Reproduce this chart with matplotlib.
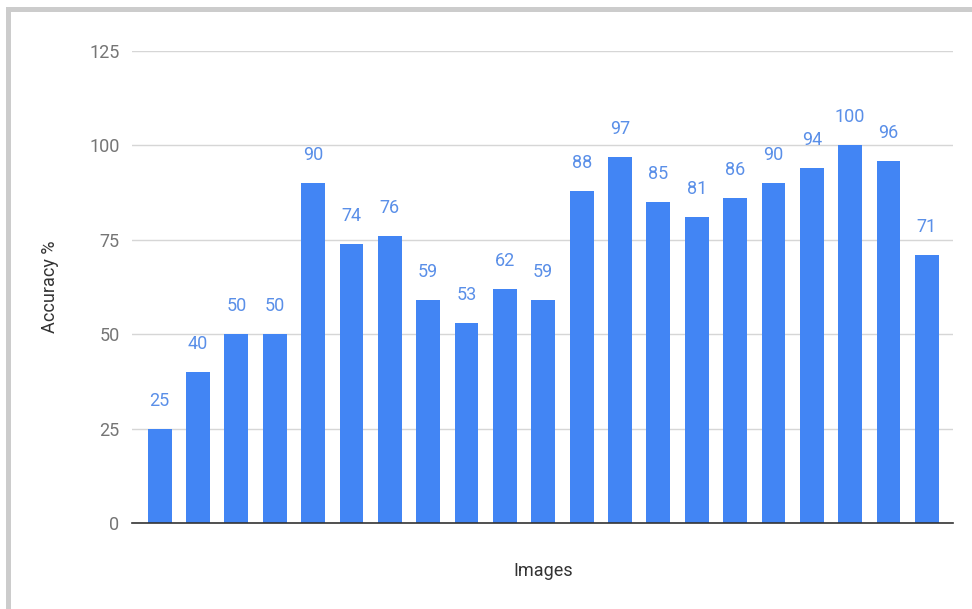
import matplotlib.pyplot as plt
from matplotlib.patches import Rectangle
import numpy as np

plt.rcParams['font.family'] = ['Roboto', 'DejaVu Sans']

# Accuracy per image
accuracy = [25, 40, 50, 50, 90, 74, 76, 59, 53, 62, 59, 88, 97, 85, 81, 86, 90, 94, 100, 96, 71]
yticks = [0, 25, 50, 75, 100, 125]

bar_blue = '#4285f4'
label_blue = '#5a8fe8'
tick_gray = '#757575'

fig = plt.figure(figsize=(9.72, 6.09), dpi=100)
ax = fig.add_axes([132 / 972, 1 - 523 / 609, (953 - 132) / 972, (523 - 51) / 609])

x = np.arange(len(accuracy))
ax.bar(x, accuracy, width=0.62, color=bar_blue, zorder=3)

for xi, v in zip(x, accuracy):
    ax.annotate(str(v), (xi, v), xytext=(0, 16.5), textcoords='offset points',
                ha='center', va='baseline', color=label_blue, fontsize=13)

ax.set_ylim(0, 125)
ax.set_xlim(-0.72, len(accuracy) - 1 + 0.68)
ax.set_yticks(yticks)
ax.set_xticks([])
ax.tick_params(axis='y', length=0, pad=9, labelsize=13, labelcolor=tick_gray)
ax.grid(axis='y', color='#d6d6d6', linewidth=1, zorder=0)

for side in ['top', 'right', 'left']:
    ax.spines[side].set_visible(False)
ax.spines['bottom'].set_color('#333333')
ax.spines['bottom'].set_linewidth(1.2)
ax.spines['bottom'].set_zorder(4)

fig.text(50 / 972, 1 - 287 / 609, 'Accuracy %', rotation=90, ha='center', va='center',
         fontsize=13, color='#333333')
fig.text(543 / 972, 1 - 571 / 609, 'Images', ha='center', va='center',
         fontsize=13, color='#333333')

# light gray frame along the left and top edges
fig.patches.append(Rectangle((6 / 972, 0), 5 / 972, 1 - 7 / 609, transform=fig.transFigure,
                             facecolor='#cccccc', edgecolor='none'))
fig.patches.append(Rectangle((6 / 972, 1 - 12 / 609), 1, 5 / 609, transform=fig.transFigure,
                             facecolor='#cccccc', edgecolor='none'))

fig.savefig('out.png', dpi=100)
